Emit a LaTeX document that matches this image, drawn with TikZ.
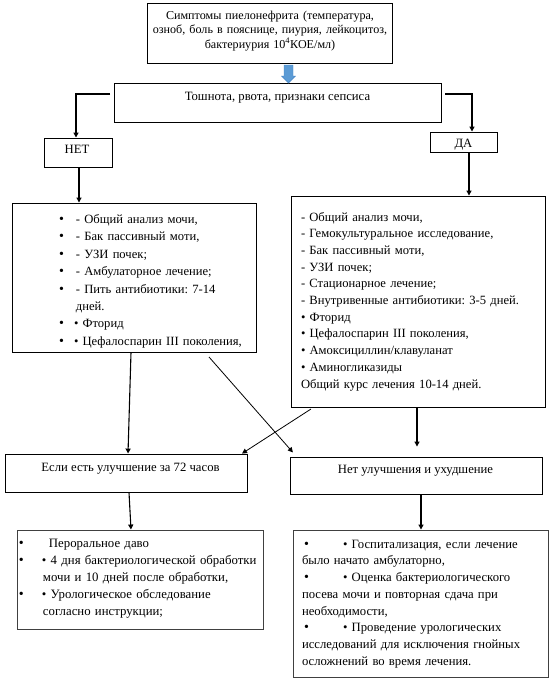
\documentclass[tikz,border=0pt]{standalone}
\usepackage{fontspec}
\setmainfont{Liberation Serif}
\usetikzlibrary{arrows.meta,calc}
\frenchspacing
\definecolor{arrowblue}{HTML}{5B9BD5}
\definecolor{arrowedge}{HTML}{4A86C5}
\newcommand{\fsA}{\fontsize{12.7}{16.7}\selectfont}
\newcommand{\fsF}{\fontsize{12.6}{16.7}\selectfont}
\newcommand{\fsB}{\fontsize{12.6}{17.4}\selectfont}
\newcommand{\fsC}{\fontsize{12.8}{17}\selectfont}
\newcommand{\fsD}{\fontsize{12.7}{16.75}\selectfont}
\newcommand{\fsE}{\fontsize{12.1}{14.5}\selectfont}
\newcommand{\sst}{\rule{0pt}{9pt}}
\newcommand{\bul}{{\fontsize{14}{14}\selectfont•}}
\begin{document}
\begin{tikzpicture}[x=1pt,y=-1pt,
  box/.style={draw=black, line width=0.9pt, rectangle, inner sep=0},
  gbox/.style={draw=black!75, line width=0.9pt, rectangle, inner sep=0},
  txt/.style={inner sep=0, outer sep=0},
  elbow/.style={line width=1.4pt, -{Triangle[length=5pt,width=5pt]}},
  arr/.style={line width=1.1pt, -{Triangle[length=5pt,width=5pt]}},
  arrthin/.style={line width=0.8pt, -{Triangle[length=5pt,width=5pt]}}]
\useasboundingbox (0,0) rectangle (553,678);

% boxes
\node[box, minimum width=245pt, minimum height=60pt] (b1) at (269.5,33) {};
\node[box, minimum width=327pt, minimum height=39pt] (b2) at (277.5,102.5) {};
\node[box, minimum width=68pt, minimum height=29pt] (net) at (78,152.5) {};
\node[box, minimum width=67pt, minimum height=20pt] (da) at (463.5,142) {};
\node[box, minimum width=244pt, minimum height=149pt] (b3) at (134,277.5) {};
\node[box, minimum width=254pt, minimum height=211pt] (b4) at (418,301.5) {};
\node[box, minimum width=242pt, minimum height=38pt] (esli) at (126,473) {};
\node[box, minimum width=252pt, minimum height=37pt] (nety) at (416,475.5) {};
\node[gbox, minimum width=246pt, minimum height=99pt] (b5) at (140,579.5) {};
\node[gbox, minimum width=255pt, minimum height=147pt] (b6) at (420.5,603.5) {};

% texts
\node[txt, anchor=north, text width=300pt, align=center, font=\fsE] (t1) at (270,10)
 {\sst Симптомы пиелонефрита (температура,\\ озноб, боль в пояснице, пиурия, лейкоцитоз,\\ бактериурия 10\textsuperscript{4}КОЕ/мл)};
\node[txt, anchor=base, font=\fsA] (t2) at (277.5,100.5) {Тошнота, рвота, признаки сепсиса};
\node[txt, anchor=base, font=\fsA] (tnet) at (77,153) {НЕТ};
\node[txt, anchor=base, font=\fsA] (tda) at (463.5,147) {ДА};
\node[txt, anchor=north west, text width=195pt, align=left, font=\fsB] (t3) at (59,214.5)
 {\sst\makebox[17pt][l]{\bul}- Общий анализ мочи,\\
  \makebox[17pt][l]{\bul}- Бак пассивный моти,\\
  \makebox[17pt][l]{\bul}- УЗИ почек;\\
  \makebox[17pt][l]{\bul}- Амбулаторное лечение;\\
  \makebox[17pt][l]{\bul}- Пить антибиотики: 7-14\\
  \hspace*{17pt}дней.\\
  \makebox[15pt][l]{\bul}• Фторид\\
  \makebox[15pt][l]{\bul}• Цефалоспарин III поколения,};
\node[txt, anchor=north west, text width=244pt, align=left, font=\fsF] (t4) at (301,212)
 {\sst - Общий анализ мочи,\\
  - Гемокультуральное исследование,\\
  - Бак пассивный моти,\\
  - УЗИ почек;\\
  - Стационарное лечение;\\
  - Внутривенные антибиотики: 3-5 дней.\\
  • Фторид\\
  • Цефалоспарин III поколения,\\
  • Амоксициллин/клавуланат\\
  • Аминогликазиды\\
  Общий курс лечения 10-14 дней.};
\node[txt, anchor=base, font=\fsA] (tesli) at (130.5,471.5) {Если есть улучшение за 72 часов};
\node[txt, anchor=base, font=\fsA] (tnety) at (415.5,473.5) {Нет улучшения и ухудшение};
\node[txt, anchor=north west, text width=260pt, align=left, font=\fsC] (t5) at (19,538)
 {\sst\makebox[30pt][l]{\bul}Пероральное даво\\
  \makebox[23pt][l]{\bul}• 4 дня бактериологической обработки\\
  \hspace*{24pt}мочи и 10 дней после обработки,\\
  \makebox[23pt][l]{\bul}• Урологическое обследование\\
  \hspace*{24pt}согласно инструкции;};
\node[txt, anchor=north west, text width=260pt, align=left, font=\fsD] (t6) at (302,539)
 {\sst\hspace*{2pt}\makebox[39pt][l]{\bul}• Госпитализация, если лечение\\
  было начато амбулаторно,\\
  \hspace*{2pt}\makebox[39pt][l]{\bul}• Оценка бактериологического\\
  посева мочи и повторная сдача при\\
  необходимости,\\
  \hspace*{2pt}\makebox[39pt][l]{\bul}• Проведение урологических\\
  исследований для исключения гнойных\\
  осложнений во время лечения.};

% blue block arrow
\filldraw[fill=arrowblue, draw=arrowedge, line width=0.4pt]
  (284,65) -- (293,65) -- (293,76) -- (295.5,76) -- (288.5,83) -- (281.5,76) -- (284,76) -- cycle;

% elbow connectors
\coordinate (eL) at (110,94);
\coordinate (eLc) at (76,94);
\draw[elbow] (eL) -- (eLc) -- (eLc |- net.north);
\coordinate (eR) at (445,94);
\coordinate (eRc) at (472,94);
\draw[elbow] (eR) -- (eRc) -- (eRc |- da.north);

% vertical arrows
\draw[arr] (net.south -| 79,0) -- (b3.north -| 79,0);
\draw[arr] (da.south -| 469,0) -- (b4.north -| 469,0);
\draw[arr] (b3.south -| 131,0) -- (esli.north -| 128,0);
\draw[arr, shorten >=10pt] (b4.south -| 417,0) -- (nety.north -| 417,0);
\draw[arr] (esli.south -| 129,0) -- (b5.north -| 131,0);
\draw[arr] (nety.south -| 421,0) -- (b6.north -| 421,0);

% diagonal arrows
\coordinate (d1) at (209,357);
\draw[arrthin, shorten >=5.5pt] (d1) -- ($(nety.north west)+(7,0)$);
\coordinate (d2) at (311,409);
\draw[arrthin] (d2) -- (esli.north -| 242,0);
\end{tikzpicture}
\end{document}
